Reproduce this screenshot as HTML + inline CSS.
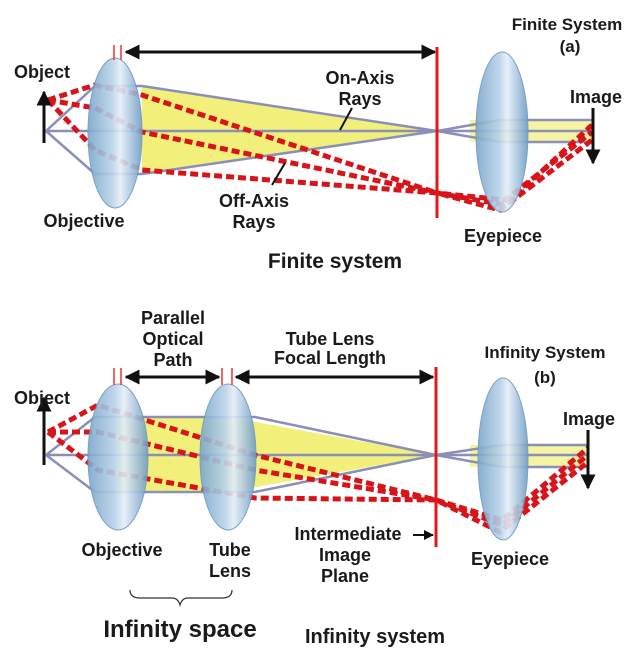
<!DOCTYPE html>
<html><head><meta charset="utf-8"><style>
body{margin:0;background:#fff}
svg{display:block}
text{font-family:"Liberation Sans",Arial,sans-serif;font-weight:bold;fill:#1a1a1a}
</style></head><body>
<svg width="637" height="655" viewBox="0 0 637 655" xmlns="http://www.w3.org/2000/svg">
<defs>
<linearGradient id="lg" x1="0" x2="1" y1="0" y2="0">
<stop offset="0" stop-color="#7aa6cc"/><stop offset="0.45" stop-color="#b9d3ea"/><stop offset="0.6" stop-color="#e4eef8"/><stop offset="1" stop-color="#6f9cc4"/>
</linearGradient>
<marker id="ah" viewBox="0 0 10 10" refX="9" refY="5" markerWidth="5" markerHeight="5" orient="auto-start-reverse"><path d="M0,0L10,5L0,10z" fill="#111"/></marker>
</defs>

<!-- ===== TOP ===== -->
<polygon points="142,86 437,131 142,174" fill="#f2f07a"/>
<polygon points="470,120 593,120 593,142 470,142" fill="#f2f07a" opacity="0.7"/>
<g stroke="#8a8fb8" stroke-width="2.5" fill="none">
<polyline points="46,131 95,86 142,86 437,131 500,120 593,120"/>
<polyline points="46,131 95,174 142,174 437,131 500,142 593,142"/>
<line x1="46" y1="131" x2="593" y2="131"/>
</g>
<g stroke="#d8141a" stroke-width="5" stroke-dasharray="8,4" fill="none">
<polyline points="48,100 95,85 142,95 437,193 505,205 592,125"/>
<polyline points="48,100 95,108 142,132 437,193 505,200 592,132"/>
<polyline points="48,100 95,150 142,170 437,193 500,210 592,140"/>
</g>
<line x1="44" y1="143" x2="44" y2="92" stroke="#111" stroke-width="3" marker-end="url(#ah)"/>
<ellipse cx="115" cy="133" rx="27" ry="75" fill="url(#lg)" stroke="#6d97bd" opacity="0.9"/>
<ellipse cx="502" cy="132" rx="26" ry="80" fill="url(#lg)" stroke="#6d97bd" opacity="0.9"/>
<line x1="114" y1="45" x2="114" y2="60" stroke="#e33" stroke-width="1.5"/>
<line x1="121" y1="45" x2="121" y2="60" stroke="#e33" stroke-width="1.5"/>
<line x1="126" y1="52" x2="435" y2="52" stroke="#111" stroke-width="3" marker-start="url(#ah)" marker-end="url(#ah)"/>
<line x1="437" y1="47" x2="437" y2="218" stroke="#e8141a" stroke-width="3"/>
<line x1="593" y1="108" x2="593" y2="163" stroke="#111" stroke-width="3" marker-end="url(#ah)"/>
<line x1="352" y1="108" x2="340" y2="130" stroke="#111" stroke-width="2"/>
<line x1="285" y1="163" x2="272" y2="185" stroke="#111" stroke-width="2"/>
<text x="42" y="78" font-size="18" text-anchor="middle">Object</text>
<text x="84" y="227" font-size="18" text-anchor="middle">Objective</text>
<text x="360" y="84" font-size="18" text-anchor="middle">On-Axis</text>
<text x="360" y="105" font-size="18" text-anchor="middle">Rays</text>
<text x="254" y="207" font-size="18" text-anchor="middle">Off-Axis</text>
<text x="254" y="228" font-size="18" text-anchor="middle">Rays</text>
<text x="503" y="242" font-size="18" text-anchor="middle">Eyepiece</text>
<text x="567" y="30" font-size="17" text-anchor="middle">Finite System</text>
<text x="570" y="52" font-size="17" text-anchor="middle">(a)</text>
<text x="596" y="103" font-size="18" text-anchor="middle">Image</text>
<text x="335" y="268" font-size="21" text-anchor="middle" fill="#000">Finite system</text>

<!-- ===== BOTTOM ===== -->
<polygon points="118,417 228,417 436,455 228,492 118,492" fill="#f2f07a"/>
<polygon points="470,445 588,445 588,467 470,467" fill="#f2f07a" opacity="0.7"/>
<g stroke="#8a8fb8" stroke-width="2.5" fill="none">
<polyline points="46,455 95,417 255,417 436,455 502,445 588,445"/>
<polyline points="46,455 95,492 255,492 436,455 502,467 588,467"/>
<line x1="46" y1="455" x2="588" y2="455"/>
</g>
<g stroke="#d8141a" stroke-width="5" stroke-dasharray="8,4" fill="none">
<polyline points="48,432 98,405 255,455 436,500 502,520 588,448"/>
<polyline points="48,432 98,432 255,470 436,500 502,525 588,455"/>
<polyline points="48,432 98,470 255,498 436,500 500,532 588,462"/>
</g>
<line x1="44" y1="465" x2="44" y2="398" stroke="#111" stroke-width="3" marker-end="url(#ah)"/>
<ellipse cx="118" cy="457" rx="30" ry="73" fill="url(#lg)" stroke="#6d97bd" opacity="0.9"/>
<ellipse cx="228" cy="457" rx="28" ry="73" fill="url(#lg)" stroke="#6d97bd" opacity="0.9"/>
<ellipse cx="503" cy="459" rx="25" ry="81" fill="url(#lg)" stroke="#6d97bd" opacity="0.9"/>
<g stroke="#e33" stroke-width="1.5">
<line x1="114" y1="368" x2="114" y2="385"/><line x1="121" y1="368" x2="121" y2="385"/>
<line x1="222" y1="368" x2="222" y2="385"/><line x1="232" y1="368" x2="232" y2="385"/>
</g>
<line x1="126" y1="377" x2="219" y2="377" stroke="#111" stroke-width="3" marker-start="url(#ah)" marker-end="url(#ah)"/>
<line x1="236" y1="377" x2="433" y2="377" stroke="#111" stroke-width="3" marker-start="url(#ah)" marker-end="url(#ah)"/>
<line x1="436" y1="367" x2="436" y2="547" stroke="#e8141a" stroke-width="3"/>
<line x1="588" y1="430" x2="588" y2="488" stroke="#111" stroke-width="3" marker-end="url(#ah)"/>
<line x1="413" y1="535" x2="433" y2="535" stroke="#111" stroke-width="2" marker-end="url(#ah)"/>
<text x="42" y="404" font-size="18" text-anchor="middle">Object</text>
<text x="173" y="324" font-size="18" text-anchor="middle">Parallel</text>
<text x="173" y="345" font-size="18" text-anchor="middle">Optical</text>
<text x="173" y="366" font-size="18" text-anchor="middle">Path</text>
<text x="330" y="345" font-size="18" text-anchor="middle">Tube Lens</text>
<text x="330" y="364" font-size="18" text-anchor="middle">Focal Length</text>
<text x="545" y="358" font-size="17" text-anchor="middle">Infinity System</text>
<text x="545" y="383" font-size="17" text-anchor="middle">(b)</text>
<text x="589" y="425" font-size="18" text-anchor="middle">Image</text>
<text x="122" y="556" font-size="18" text-anchor="middle">Objective</text>
<text x="230" y="556" font-size="18" text-anchor="middle">Tube</text>
<text x="230" y="577" font-size="18" text-anchor="middle">Lens</text>
<text x="348" y="540" font-size="18" text-anchor="middle">Intermediate</text>
<text x="345" y="561" font-size="18" text-anchor="middle">Image</text>
<text x="345" y="582" font-size="18" text-anchor="middle">Plane</text>
<text x="510" y="565" font-size="18" text-anchor="middle">Eyepiece</text>
<path d="M130,590 Q130,598 140,598 L172,598 Q178,598 180,605 Q182,598 188,598 L222,598 Q232,598 232,590" fill="none" stroke="#333" stroke-width="1.2"/>
<text x="180" y="637" font-size="24" text-anchor="middle" fill="#000">Infinity space</text>
<text x="375" y="643" font-size="20" text-anchor="middle" fill="#000">Infinity system</text>
</svg>
</body></html>
